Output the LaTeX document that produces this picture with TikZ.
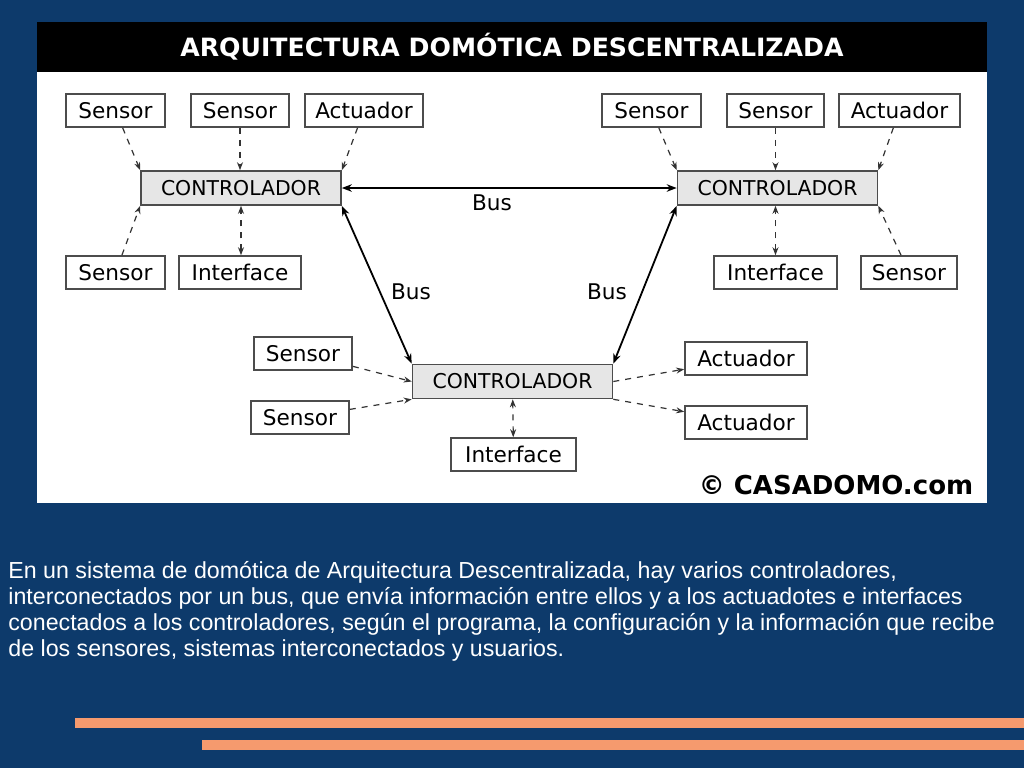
\documentclass[tikz,border=0pt]{standalone}
\usepackage{fontspec}
\setmainfont{Liberation Sans}
\newfontfamily\boxfont{DejaVu Sans}
\usetikzlibrary{arrows.meta}
\definecolor{bg}{HTML}{0D3A6B}
\definecolor{org}{HTML}{F59A6E}
\definecolor{ctl}{HTML}{E6E6E6}
\begin{document}
\begin{tikzpicture}[x=0.5pt,y=-0.5pt,
 bx/.style={draw=black!70,line width=0.8pt,fill=white,font=\boxfont\fontsize{10.8}{11}\selectfont,inner sep=0pt,minimum height=16.5pt},
 ct/.style={bx,fill=ctl,minimum width=100pt,minimum height=17pt,font=\boxfont\fontsize{10.2}{11}\selectfont},
 da/.style={dashed,line width=0.6pt,-{Stealth[length=4pt]},black!80},
 dd/.style={da,{Stealth[length=4pt]}-{Stealth[length=4pt]}},
 bus/.style={line width=0.9pt,{Stealth[length=5pt]}-{Stealth[length=5pt]}},
 lb/.style={font=\boxfont\fontsize{10.8}{11}\selectfont}]
\useasboundingbox (0,0) rectangle (1024,768);
\fill[bg] (0,0) rectangle (1024,768);
\fill[white] (37,22) rectangle (987,503);
\fill[black] (37,22) rectangle (987,72);
\node[white,font=\boxfont\bfseries\fontsize{12.6}{13}\selectfont] (title) at (512,47) {ARQUITECTURA DOMÓTICA DESCENTRALIZADA};
% left
\node[bx,minimum width=49.5pt] (s1) at (115.5,110.5) {Sensor};
\node[bx,minimum width=49pt] (s2) at (240,110.5) {Sensor};
\node[bx,minimum width=59pt] (a1) at (364,110.5) {Actuador};
\node[ct] (c1) at (241,188) {CONTROLADOR};
\node[bx,minimum width=49.5pt] (s3) at (115.5,272.5) {Sensor};
\node[bx,minimum width=61pt] (i1) at (240,272.5) {Interface};
% right
\node[bx,minimum width=49.5pt] (s4) at (651.5,110.5) {Sensor};
\node[bx,minimum width=48.5pt] (s5) at (775.5,110.5) {Sensor};
\node[bx,minimum width=60.5pt] (a2) at (899.5,110.5) {Actuador};
\node[ct] (c2) at (777.5,188) {CONTROLADOR};
\node[bx,minimum width=61.5pt] (i2) at (775.5,272.5) {Interface};
\node[bx,minimum width=48pt] (s6) at (909,272.5) {Sensor};
% bottom
\node[bx,minimum width=49pt] (s7) at (303,353.5) {Sensor};
\node[bx,minimum width=49pt] (s8) at (300,417.5) {Sensor};
\node[ct] (c3) at (512.5,381.5) {CONTROLADOR};
\node[bx,minimum width=61pt] (a3) at (746,358.5) {Actuador};
\node[bx,minimum width=61pt] (a4) at (746,422.5) {Actuador};
\node[bx,minimum width=62.5pt] (i3) at (513.5,454.5) {Interface};
% connectors
\draw[da] (s1) -- (c1.north west);
\draw[da] (s2) -- (s2|-c1.north);
\draw[da] (a1) -- (c1.north east);
\draw[da] (s3) -- (c1.south west);
\draw[dd] (i1.north-|c1) -- (c1.south);
\draw[da] (s4) -- (c2.north west);
\draw[da] (s5) -- (s5|-c2.north);
\draw[da] (a2) -- (c2.north east);
\draw[dd] (i2) -- (i2|-c2.south);
\draw[da] (s6) -- (c2.south east);
\draw[da] (s7) -- (c3.west);
\draw[da] (s8) -- (c3.south west);
\draw[da] (c3.east) -- (a3);
\draw[da] (c3.south east) -- (a4);
\draw[dd] (i3) -- (c3);
\draw[bus] (c1) -- (c2);
\draw[bus] (c1.south east) -- (c3.north west);
\draw[bus] (c2.south west) -- (c3.north east);
\node[lb] (b1) at (492,203) {Bus};
\node[lb] (b2) at (411,292) {Bus};
\node[lb] (b3) at (607,292) {Bus};
\node[font=\boxfont\bfseries\fontsize{13}{14}\selectfont] (cp) at (836,485) {© CASADOMO.com};
\node[white,anchor=north west,align=left,font=\fontsize{11.6}{13}\selectfont,inner sep=0pt] (txt) at (8,561) {En un sistema de domótica de Arquitectura Descentralizada, hay varios controladores,\\interconectados por un bus, que envía información entre ellos y a los actuadotes e interfaces\\conectados a los controladores, según el programa, la configuración y la información que recibe\\de los sensores, sistemas interconectados y usuarios.};
\fill[org] (75,718) rectangle (1024,728);
\fill[org] (202,740) rectangle (1024,750);
\end{tikzpicture}
\end{document}
